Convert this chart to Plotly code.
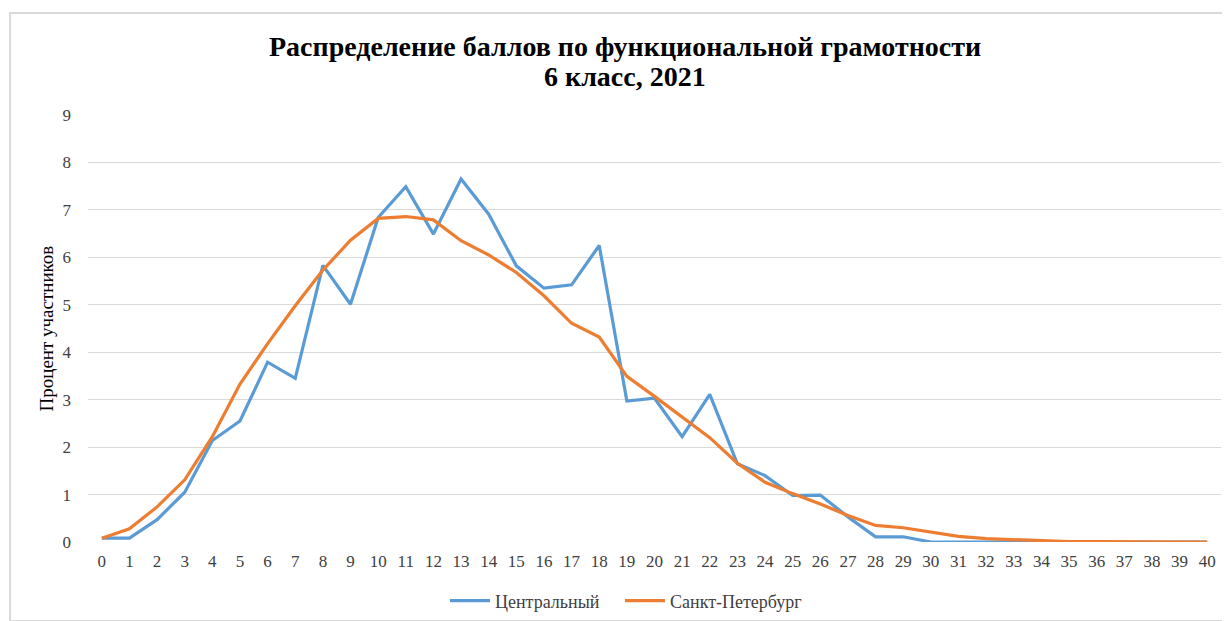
import plotly.graph_objects as go

scores = list(range(0, 41))
central = [0.08, 0.08, 0.47, 1.05, 2.14, 2.55, 3.79, 3.45, 5.83, 5.01, 6.84, 7.49, 6.49, 7.65,
           6.91, 5.82, 5.35, 5.42, 6.25, 2.97, 3.03, 2.22, 3.11, 1.65, 1.40, 0.98, 0.99, 0.53,
           0.11, 0.11, 0.0, 0.0, 0.0, 0.0, 0.0, 0.0, 0.0, 0.0, 0.0, 0.0, 0.0]
spb = [0.08, 0.28, 0.74, 1.31, 2.22, 3.33, 4.18, 4.98, 5.73, 6.36, 6.82, 6.86, 6.79, 6.35,
       6.05, 5.68, 5.19, 4.61, 4.32, 3.49, 3.07, 2.63, 2.20, 1.66, 1.26, 1.02, 0.80, 0.56,
       0.35, 0.30, 0.21, 0.12, 0.07, 0.05, 0.03, 0.01, 0.01, 0.01, 0.0, 0.0, 0.0]
y_ticks = list(range(0, 10))

title_line1 = "Распределение баллов по функциональной грамотности"
title_line2 = "6 класс, 2021"
y_title = "Процент участников"
serif = "Liberation Serif, Times New Roman, serif"

fig = go.Figure()
fig.add_trace(go.Scatter(x=scores, y=central, mode="lines", name="Центральный",
                         line=dict(color="#5B9BD5", width=3.2), cliponaxis=False,
                         legend="legend", showlegend=True))
fig.add_trace(go.Scatter(x=scores, y=spb, mode="lines", name="Санкт-Петербург",
                         line=dict(color="#ED7D31", width=3.2), cliponaxis=False,
                         legend="legend2", showlegend=True))

legend_common = dict(orientation="h", xanchor="left", xref="container",
                     y=0.063, yanchor="top", yref="container", bgcolor="rgba(0,0,0,0)",
                     font=dict(family=serif, size=18, color="#404040"), itemwidth=40,
                     visible=True)

fig.update_layout(
    width=1222, height=613, showlegend=True,
    margin=dict(l=80, r=9, t=107, b=79, autoexpand=False),
    paper_bgcolor="white", plot_bgcolor="white",
    font=dict(family=serif, color="#404040", size=17),
    xaxis=dict(range=[-0.5, 40.5], tickmode="array", tickvals=scores,
               ticktext=[str(s) for s in scores], showgrid=False, zeroline=False,
               showline=False, ticks="", tickfont=dict(family=serif, size=17, color="#404040"),
               ticklabelstandoff=7, automargin=False),
    yaxis=dict(range=[0, 9], tickmode="array", tickvals=y_ticks,
               gridcolor="#d9d9d9", gridwidth=1, zeroline=False, showline=False,
               ticks="", tickfont=dict(family=serif, size=17, color="#404040"),
               ticklabelstandoff=16, automargin=False),
    legend=dict(x=437 / 1222, **legend_common),
    legend2=dict(x=612 / 1222, **legend_common),
    annotations=[
        dict(text="<b>" + title_line1 + "</b>", xref="paper", yref="paper",
             x=0.474, y=(542 - 46) / 427, xanchor="center", yanchor="middle",
             showarrow=False, font=dict(family=serif, size=28, color="black")),
        dict(text="<b>" + title_line2 + "</b>", xref="paper", yref="paper",
             x=0.474, y=(542 - 77) / 427, xanchor="center", yanchor="middle",
             showarrow=False, font=dict(family=serif, size=28, color="black")),
        dict(text=y_title, xref="paper", yref="paper", x=(46 - 88) / 1133, y=0.5,
             xanchor="center", yanchor="middle", textangle=-90, showarrow=False,
             font=dict(family=serif, size=19, color="black")),
    ],
    shapes=[dict(type="rect", xref="paper", yref="paper",
                 x0=-0.0688, x1=1.03, y0=-0.185, y1=1.239,
                 line=dict(color="#d9d9d9", width=2), fillcolor="rgba(0,0,0,0)",
                 layer="below")],
)

fig.write_html("out.html")
